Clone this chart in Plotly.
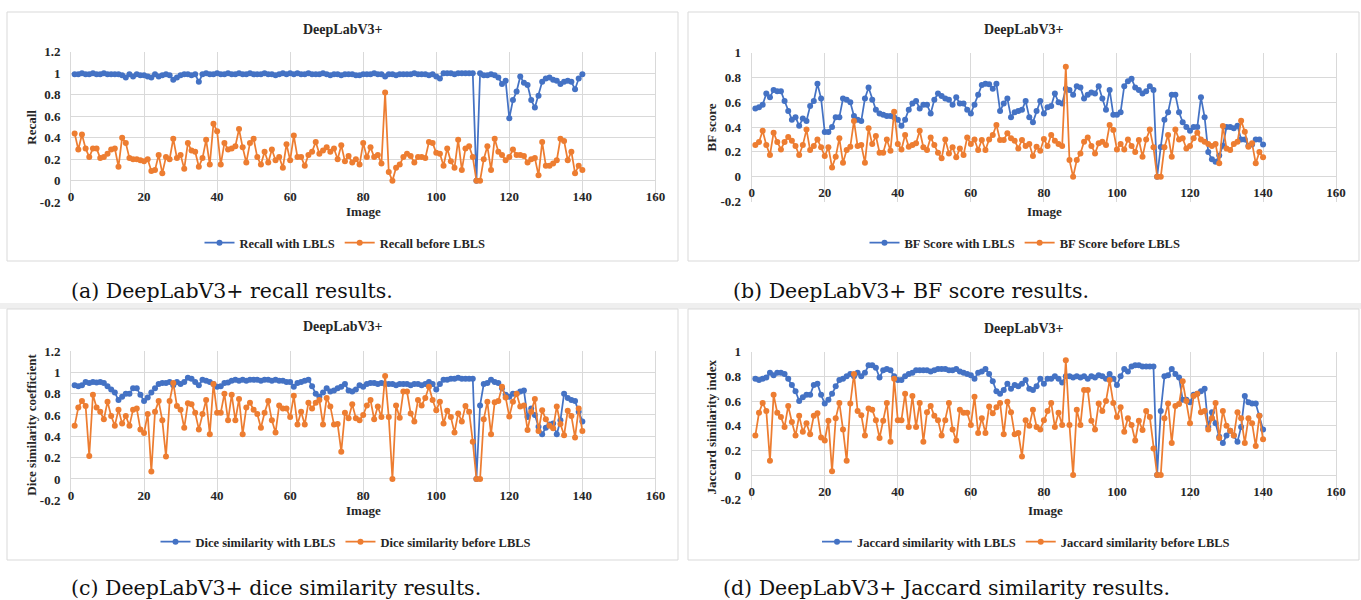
import plotly.graph_objects as go

# ---------------- data ----------------
image_idx = list(range(1, 141))
x_tickvals = [0, 20, 40, 60, 80, 100, 120, 140, 160]
x_ticklabels = ["0", "20", "40", "60", "80", "100", "120", "140", "160"]
y_tickvals_12 = [-0.2, 0, 0.2, 0.4, 0.6, 0.8, 1.0, 1.2]
y_ticklabels_12 = ["-0.2", "0", "0.2", "0.4", "0.6", "0.8", "1", "1.2"]
y_tickvals_10 = [-0.2, 0, 0.2, 0.4, 0.6, 0.8, 1.0]
y_ticklabels_10 = ["-0.2", "0", "0.2", "0.4", "0.6", "0.8", "1"]

recall_with = [
    0.99, 0.99, 1.00, 0.99, 0.99, 1.00, 0.99, 0.99, 1.00, 0.99,
    0.99, 0.99, 0.99, 0.98, 0.96, 0.99, 0.97, 0.99, 0.98, 0.98,
    0.97, 0.96, 0.99, 0.97, 0.98, 0.99, 0.98, 0.94, 0.96, 0.98,
    0.99, 0.99, 0.98, 0.99, 0.92, 0.99, 1.00, 0.99, 0.99, 1.00,
    0.99, 0.99, 1.00, 0.99, 0.99, 1.00, 0.99, 0.99, 1.00, 0.99,
    0.99, 0.99, 1.00, 0.99, 0.99, 0.98, 0.99, 1.00, 0.99, 1.00,
    0.99, 1.00, 0.99, 0.99, 1.00, 0.99, 0.99, 0.99, 1.00, 0.99,
    0.98, 0.99, 0.99, 0.98, 0.99, 0.99, 0.99, 0.98, 0.98, 0.99,
    0.99, 0.99, 1.00, 0.99, 0.99, 0.97, 0.99, 0.99, 0.98, 0.99,
    0.99, 0.99, 0.99, 1.00, 0.99, 0.99, 0.99, 0.98, 0.99, 0.97,
    0.95, 1.00, 1.00, 1.00, 0.99, 1.00, 1.00, 1.00, 1.00, 1.00,
    0.00, 1.00, 0.98, 0.98, 0.99, 0.98, 0.96, 0.90, 0.93, 0.58,
    0.75, 0.83, 0.97, 0.91, 0.89, 0.75, 0.68, 0.79, 0.92, 0.95,
    0.96, 0.94, 0.93, 0.90, 0.92, 0.93, 0.92, 0.85, 0.95, 0.99,
]
recall_before = [
    0.44, 0.29, 0.43, 0.30, 0.22, 0.30, 0.30, 0.21, 0.22, 0.25,
    0.29, 0.30, 0.13, 0.40, 0.35, 0.21, 0.20, 0.20, 0.19, 0.18,
    0.20, 0.09, 0.10, 0.24, 0.07, 0.22, 0.20, 0.39, 0.21, 0.24,
    0.11, 0.35, 0.28, 0.27, 0.13, 0.21, 0.38, 0.15, 0.53, 0.46,
    0.15, 0.35, 0.29, 0.30, 0.32, 0.48, 0.31, 0.17, 0.35, 0.39,
    0.22, 0.15, 0.27, 0.17, 0.29, 0.19, 0.22, 0.12, 0.34, 0.19,
    0.42, 0.22, 0.22, 0.14, 0.24, 0.27, 0.36, 0.25, 0.28, 0.31,
    0.27, 0.30, 0.20, 0.33, 0.18, 0.23, 0.17, 0.20, 0.15, 0.35,
    0.22, 0.31, 0.22, 0.24, 0.16, 0.82, 0.08, 0.00, 0.12, 0.15,
    0.22, 0.25, 0.23, 0.17, 0.22, 0.22, 0.21, 0.36, 0.35, 0.26,
    0.25, 0.14, 0.30, 0.18, 0.12, 0.38, 0.10, 0.30, 0.32, 0.22,
    0.00, 0.00, 0.20, 0.32, 0.10, 0.39, 0.27, 0.24, 0.19, 0.22,
    0.29, 0.24, 0.24, 0.23, 0.17, 0.20, 0.21, 0.05, 0.36, 0.14,
    0.14, 0.16, 0.19, 0.39, 0.37, 0.19, 0.27, 0.07, 0.14, 0.10,
]
bf_with = [
    0.55, 0.56, 0.58, 0.67, 0.64, 0.70, 0.69, 0.69, 0.61, 0.53,
    0.46, 0.48, 0.41, 0.47, 0.45, 0.57, 0.61, 0.75, 0.63, 0.36,
    0.36, 0.40, 0.48, 0.48, 0.63, 0.62, 0.60, 0.49, 0.46, 0.45,
    0.63, 0.72, 0.62, 0.54, 0.51, 0.50, 0.49, 0.49, 0.48, 0.46,
    0.41, 0.46, 0.54, 0.59, 0.61, 0.55, 0.58, 0.58, 0.51, 0.62,
    0.67, 0.65, 0.63, 0.62, 0.58, 0.64, 0.59, 0.59, 0.54, 0.51,
    0.58, 0.66, 0.74, 0.75, 0.745, 0.71, 0.75, 0.53, 0.59, 0.63,
    0.48, 0.52, 0.53, 0.54, 0.61, 0.48, 0.44, 0.53, 0.61, 0.51,
    0.56, 0.57, 0.67, 0.60, 0.59, 0.71, 0.70, 0.66, 0.73, 0.72,
    0.63, 0.66, 0.68, 0.67, 0.73, 0.63, 0.54, 0.70, 0.50, 0.50,
    0.52, 0.73, 0.77, 0.79, 0.72, 0.70, 0.67, 0.69, 0.73, 0.70,
    0.00, 0.24, 0.46, 0.52, 0.66, 0.66, 0.52, 0.44, 0.40, 0.37,
    0.40, 0.40, 0.64, 0.48, 0.20, 0.14, 0.12, 0.17, 0.25, 0.40,
    0.40, 0.39, 0.41, 0.30, 0.30, 0.25, 0.26, 0.30, 0.30, 0.26,
]
bf_before = [
    0.255, 0.28, 0.37, 0.255, 0.175, 0.355, 0.28, 0.22, 0.28, 0.32,
    0.29, 0.247, 0.175, 0.255, 0.38, 0.215, 0.247, 0.30, 0.237, 0.167,
    0.237, 0.075, 0.16, 0.31, 0.113, 0.215, 0.242, 0.45, 0.247, 0.255,
    0.113, 0.39, 0.263, 0.328, 0.194, 0.194, 0.30, 0.21, 0.524, 0.263,
    0.22, 0.336, 0.242, 0.255, 0.269, 0.371, 0.237, 0.215, 0.317, 0.255,
    0.194, 0.148, 0.30, 0.188, 0.237, 0.156, 0.228, 0.175, 0.317, 0.263,
    0.30, 0.215, 0.296, 0.215, 0.30, 0.336, 0.417, 0.296, 0.296, 0.35,
    0.31, 0.29, 0.228, 0.296, 0.247, 0.263, 0.167, 0.242, 0.21, 0.304,
    0.247, 0.336, 0.29, 0.263, 0.247, 0.887, 0.134, 0.0, 0.134, 0.188,
    0.282, 0.317, 0.247, 0.188, 0.269, 0.282, 0.255, 0.417, 0.376, 0.22,
    0.263, 0.22, 0.30, 0.247, 0.20, 0.296, 0.161, 0.30, 0.38, 0.237,
    0.0, 0.0, 0.237, 0.336, 0.161, 0.38, 0.30, 0.31, 0.228, 0.247,
    0.31, 0.355, 0.30, 0.282, 0.263, 0.247, 0.263, 0.108, 0.409, 0.228,
    0.215, 0.263, 0.282, 0.452, 0.363, 0.242, 0.269, 0.108, 0.20, 0.156,
]
dice_with = [
    0.88, 0.87, 0.88, 0.91, 0.90, 0.91, 0.905, 0.91, 0.90, 0.87,
    0.84, 0.81, 0.74, 0.77, 0.80, 0.80, 0.85, 0.85, 0.79, 0.73,
    0.765, 0.81, 0.85, 0.89, 0.90, 0.90, 0.91, 0.88, 0.91, 0.89,
    0.91, 0.95, 0.94, 0.91, 0.88, 0.93, 0.92, 0.91, 0.89, 0.865,
    0.87, 0.90, 0.905, 0.92, 0.93, 0.92, 0.93, 0.92, 0.93, 0.93,
    0.93, 0.92, 0.93, 0.93, 0.92, 0.93, 0.92, 0.92, 0.91, 0.91,
    0.865, 0.90, 0.91, 0.92, 0.93, 0.87, 0.80, 0.77, 0.81, 0.85,
    0.82, 0.83, 0.85, 0.865, 0.89, 0.83, 0.82, 0.84, 0.88, 0.865,
    0.89, 0.90, 0.90, 0.89, 0.90, 0.89, 0.89, 0.89, 0.88, 0.89,
    0.89, 0.89, 0.88, 0.89, 0.89, 0.88, 0.89, 0.91, 0.89, 0.84,
    0.89, 0.93, 0.93, 0.94, 0.94, 0.95, 0.94, 0.94, 0.94, 0.94,
    0.00, 0.69, 0.89, 0.90, 0.93, 0.91, 0.90, 0.85, 0.79, 0.77,
    0.80, 0.80, 0.82, 0.83, 0.58, 0.66, 0.60, 0.49, 0.42, 0.48,
    0.51, 0.52, 0.42, 0.55, 0.80, 0.76, 0.74, 0.73, 0.63, 0.54,
]
dice_before = [
    0.50, 0.67, 0.73, 0.685, 0.215, 0.79, 0.67, 0.63, 0.56, 0.725,
    0.59, 0.50, 0.65, 0.52, 0.59, 0.50, 0.65, 0.66, 0.465, 0.43,
    0.61, 0.07, 0.63, 0.73, 0.55, 0.21, 0.73, 0.90, 0.685, 0.65,
    0.48, 0.71, 0.70, 0.62, 0.465, 0.61, 0.74, 0.42, 0.89, 0.62,
    0.62, 0.80, 0.55, 0.79, 0.55, 0.75, 0.42, 0.67, 0.715, 0.65,
    0.61, 0.48, 0.62, 0.73, 0.55, 0.435, 0.69, 0.66, 0.66, 0.58,
    0.78, 0.51, 0.63, 0.51, 0.715, 0.66, 0.715, 0.74, 0.51, 0.76,
    0.68, 0.51, 0.515, 0.256, 0.62, 0.57, 0.70, 0.57, 0.55, 0.60,
    0.69, 0.74, 0.56, 0.68, 0.58, 0.965, 0.58, 0.0, 0.69, 0.575,
    0.82, 0.82, 0.615, 0.54, 0.74, 0.69, 0.76, 0.865, 0.74, 0.645,
    0.725, 0.52, 0.64, 0.58, 0.435, 0.615, 0.54, 0.685, 0.63, 0.35,
    0.0, 0.0, 0.56, 0.725, 0.42, 0.72, 0.73, 0.865, 0.765, 0.585,
    0.725, 0.80, 0.68, 0.69, 0.46, 0.63, 0.75, 0.45, 0.645, 0.56,
    0.50, 0.475, 0.68, 0.515, 0.41, 0.64, 0.59, 0.39, 0.66, 0.45,
]
jaccard_with = [
    0.78, 0.77, 0.78, 0.79, 0.83, 0.81, 0.83, 0.83, 0.82, 0.78,
    0.73, 0.68, 0.60, 0.63, 0.65, 0.65, 0.73, 0.74, 0.65, 0.58,
    0.61, 0.66, 0.72, 0.77, 0.78, 0.80, 0.82, 0.80, 0.83, 0.80,
    0.83, 0.89, 0.89, 0.87, 0.79, 0.85, 0.86, 0.85, 0.80, 0.77,
    0.77, 0.80, 0.82, 0.83, 0.85, 0.85, 0.85, 0.85, 0.84, 0.85,
    0.86, 0.86, 0.86, 0.85, 0.85, 0.86, 0.84, 0.83, 0.82, 0.81,
    0.78, 0.83, 0.84, 0.86, 0.82, 0.76, 0.68, 0.66, 0.69, 0.74,
    0.70, 0.73, 0.72, 0.74, 0.77, 0.70, 0.69, 0.72, 0.78, 0.74,
    0.78, 0.78, 0.80, 0.78, 0.75, 0.80, 0.80, 0.79, 0.80, 0.79,
    0.80, 0.78, 0.80, 0.79, 0.81, 0.80, 0.78, 0.82, 0.78, 0.73,
    0.80, 0.86, 0.84, 0.88, 0.89, 0.89, 0.88, 0.88, 0.88, 0.88,
    0.00, 0.52, 0.80, 0.81, 0.86, 0.82, 0.79, 0.61, 0.61, 0.59,
    0.65, 0.66, 0.68, 0.70, 0.39, 0.51, 0.42, 0.31, 0.26, 0.32,
    0.36, 0.32, 0.27, 0.39, 0.64, 0.59, 0.58, 0.58, 0.48, 0.37,
]
jaccard_before = [
    0.32, 0.505, 0.585, 0.52, 0.115, 0.65, 0.505, 0.47, 0.39, 0.56,
    0.43, 0.32, 0.48, 0.35, 0.42, 0.33, 0.48, 0.50, 0.305, 0.28,
    0.44, 0.03, 0.46, 0.585, 0.37, 0.115, 0.58, 0.82, 0.52, 0.485,
    0.32, 0.54, 0.53, 0.445, 0.30, 0.44, 0.585, 0.27, 0.78, 0.445,
    0.445, 0.66, 0.39, 0.64, 0.39, 0.585, 0.27, 0.51, 0.56, 0.48,
    0.445, 0.32, 0.445, 0.585, 0.37, 0.28, 0.53, 0.505, 0.505, 0.405,
    0.635, 0.34, 0.46, 0.34, 0.555, 0.50, 0.55, 0.585, 0.33, 0.595,
    0.51, 0.33, 0.34, 0.15, 0.445, 0.40, 0.53, 0.39, 0.37, 0.445,
    0.52, 0.585, 0.39, 0.505, 0.405, 0.93, 0.405, 0.0, 0.53, 0.405,
    0.69, 0.69, 0.44, 0.37, 0.58, 0.52, 0.60, 0.77, 0.585, 0.47,
    0.55, 0.35, 0.46, 0.405, 0.28, 0.44, 0.365, 0.52, 0.47, 0.215,
    0.0, 0.0, 0.46, 0.58, 0.26, 0.56, 0.575, 0.76, 0.60, 0.42,
    0.64, 0.66, 0.51, 0.52, 0.37, 0.46, 0.585, 0.30, 0.52, 0.40,
    0.36, 0.32, 0.51, 0.46, 0.26, 0.46, 0.42, 0.235, 0.48, 0.29,
]

for s in (recall_with, recall_before, bf_with, bf_before, dice_with,
          dice_before, jaccard_with, jaccard_before):
    assert len(s) == 140

# ---------------- layout helpers ----------------
W, H = 1361, 600
BLUE = "#4472C4"
ORANGE = "#ED7D31"
GRID = "#d9d9d9"
TXT = "#262626"
SERIF = "Liberation Serif"


def px(x):
    return x / W


def py(y):
    return 1 - y / H


panels = [
    dict(n="", leg="legend", with_=recall_with, before=recall_before,
         wname="Recall with LBLS", bname="Recall before LBLS", ytitle="Recall",
         yr=[-0.2, 1.2], tv=y_tickvals_12, tt=y_ticklabels_12,
         plot=(71, 655.4, 51.7, 202.2), box=(7, 678, 12, 261), title=(343, 29),
         yt=(30.7, 127), xt=(363, 212), lg=(345, 243),
         cap="(a) DeepLabV3+ recall results.", capxy=(69, 291)),
    dict(n="2", leg="legend2", with_=bf_with, before=bf_before,
         wname="BF Score with LBLS", bname="BF Score before LBLS", ytitle="BF score",
         yr=[-0.2, 1.0], tv=y_tickvals_10, tt=y_ticklabels_10,
         plot=(751.7, 1336.1, 52.7, 201.5), box=(688, 1359, 12, 261), title=(1023.5, 29),
         yt=(711.4, 127), xt=(1044, 212), lg=(1025, 243),
         cap="(b) DeepLabV3+ BF score results.", capxy=(731, 291)),
    dict(n="3", leg="legend3", with_=dice_with, before=dice_before,
         wname="Dice similarity with LBLS", bname="Dice similarity before LBLS",
         ytitle="Dice similarity coefficient",
         yr=[-0.2, 1.2], tv=y_tickvals_12, tt=y_ticklabels_12,
         plot=(71, 655.4, 351, 500.3), box=(7, 678, 309, 560), title=(343, 326),
         yt=(30.7, 425), xt=(363, 510.5), lg=(346, 542),
         cap="(c) DeepLabV3+ dice similarity results.", capxy=(69, 588)),
    dict(n="4", leg="legend4", with_=jaccard_with, before=jaccard_before,
         wname="Jaccard similarity with LBLS", bname="Jaccard similarity before LBLS",
         ytitle="Jaccard similarity index",
         yr=[-0.2, 1.0], tv=y_tickvals_10, tt=y_ticklabels_10,
         plot=(751.7, 1336.1, 351.7, 499.7), box=(688, 1359, 309, 560), title=(1023.5, 328),
         yt=(711.4, 427), xt=(1045, 510.7), lg=(1026, 542),
         cap="(d) DeepLabV3+ Jaccard similarity results.", capxy=(721, 587.5)),
]

fig = go.Figure()
annotations = []
shapes = [
    dict(type="rect", xref="paper", yref="paper", x0=0, x1=1, y0=py(309), y1=py(303),
         fillcolor="#efefef", line=dict(width=0), layer="below"),
]
layout_extra = {}

tickfont = dict(family=SERIF, size=13, color=TXT, weight="bold")

for p in panels:
    xa = "x" + p["n"]
    ya = "y" + p["n"]
    x0, x1, ytop, ybot = p["plot"]
    dom_x = [px(x0), px(x1)]
    dom_y = [py(ybot), py(ytop)]
    ymin, ymax = p["yr"]
    zero_pos = dom_y[0] + (dom_y[1] - dom_y[0]) * (0 - ymin) / (ymax - ymin)

    fig.add_trace(go.Scatter(
        x=image_idx, y=p["with_"], name=p["wname"], mode="lines+markers",
        line=dict(color=BLUE, width=1.75), marker=dict(color=BLUE, size=6),
        xaxis=xa, yaxis=ya, legend=p["leg"]))
    fig.add_trace(go.Scatter(
        x=image_idx, y=p["before"], name=p["bname"], mode="lines+markers",
        line=dict(color=ORANGE, width=1.75), marker=dict(color=ORANGE, size=6),
        xaxis=xa, yaxis=ya, legend=p["leg"]))

    layout_extra["xaxis" + p["n"]] = dict(
        domain=dom_x, range=[0, 160], tickvals=x_tickvals, ticktext=x_ticklabels,
        showgrid=True, gridcolor=GRID, gridwidth=1, zeroline=False,
        anchor="free", position=zero_pos, showline=False,
        ticks="outside", ticklen=4, tickcolor="rgba(0,0,0,0)",
        tickfont=tickfont, automargin=False, fixedrange=True)
    layout_extra["yaxis" + p["n"]] = dict(
        domain=dom_y, range=p["yr"], tickvals=p["tv"], ticktext=p["tt"],
        showgrid=True, gridcolor=GRID, gridwidth=1,
        zeroline=True, zerolinecolor=GRID, zerolinewidth=1,
        anchor=xa, showline=True, linecolor=GRID, linewidth=1, mirror=True,
        ticks="outside", ticklen=7, tickcolor="rgba(0,0,0,0)",
        tickfont=tickfont, automargin=False, fixedrange=True)
    layout_extra[p["leg"]] = dict(
        orientation="h", x=px(p["lg"][0]), y=py(p["lg"][1]),
        xanchor="center", yanchor="middle", bgcolor="rgba(0,0,0,0)",
        font=dict(family=SERIF, size=12.5, color=TXT, weight="bold"),
        itemwidth=30, traceorder="normal")

    bx0, bx1, by0, by1 = p["box"]
    shapes.append(dict(type="rect", xref="paper", yref="paper",
                       x0=px(bx0), x1=px(bx1), y0=py(by1), y1=py(by0),
                       line=dict(color=GRID, width=1), fillcolor="rgba(0,0,0,0)",
                       layer="below"))

    annotations.append(dict(text="<b>DeepLabV3+</b>", x=px(p["title"][0]), y=py(p["title"][1]),
                            xref="paper", yref="paper", xanchor="center", yanchor="middle",
                            showarrow=False, font=dict(family=SERIF, size=14, color=TXT)))
    annotations.append(dict(text="<b>" + p["ytitle"] + "</b>", x=px(p["yt"][0]), y=py(p["yt"][1]),
                            xref="paper", yref="paper", xanchor="center", yanchor="middle",
                            textangle=-90, showarrow=False,
                            font=dict(family=SERIF, size=13, color=TXT)))
    annotations.append(dict(text="<b>Image</b>", x=px(p["xt"][0]), y=py(p["xt"][1]),
                            xref="paper", yref="paper", xanchor="center", yanchor="middle",
                            showarrow=False, font=dict(family=SERIF, size=13, color=TXT)))
    annotations.append(dict(text=p["cap"], x=px(p["capxy"][0]), y=py(p["capxy"][1]),
                            xref="paper", yref="paper", xanchor="left", yanchor="middle",
                            showarrow=False, font=dict(family="DejaVu Serif", size=20.5, color="#111111")))

fig.update_layout(
    template="none",
    width=W, height=H,
    margin=dict(l=0, r=0, t=0, b=0),
    paper_bgcolor="white", plot_bgcolor="white",
    font=dict(family=SERIF, color=TXT),
    showlegend=True,
    annotations=annotations,
    shapes=shapes,
    hovermode=False,
    **layout_extra,
)

fig.write_html("out.html")
